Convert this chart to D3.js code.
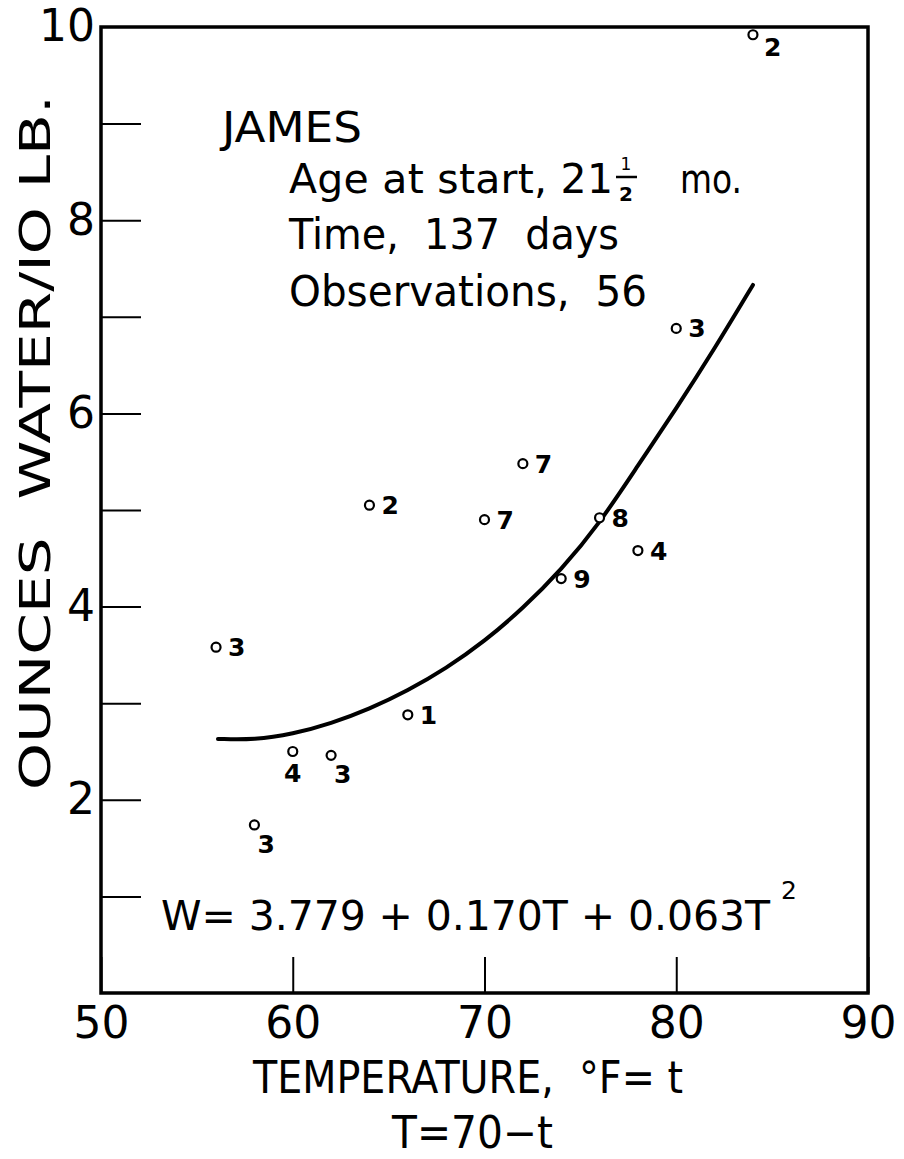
<!DOCTYPE html>
<html>
<head>
<meta charset="utf-8">
<script src="https://cdn.jsdelivr.net/npm/d3@7"></script>
<style>
  html, body { margin: 0; padding: 0; background: #fff; }
  svg { display: block; }
  text { font-family: "DejaVu Sans", sans-serif; fill: #000; white-space: pre; }
</style>
</head>
<body>
<div id="chart"></div>
<script>
// observed points: temperature (°F), ounces water / 10 lb, number of observations
var temps  = [84, 80, 56, 64, 72, 70, 76, 78, 74, 66, 60, 62, 58];
var water  = [9.92, 6.88, 3.58, 5.05, 5.48, 4.90, 4.92, 4.58, 4.29, 2.88, 2.50, 2.46, 1.74];
var counts = ['2', '3', '3', '2', '7', '7', '8', '4', '9', '1', '4', '3', '3'];
// where the count sits next to its circle
var labelSide = ['sub', 'r', 'r', 'r', 'r', 'r', 'r', 'r', 'r', 'r', 'b', 'br', 'br'];

// fitted curve
var curveT = [56.1, 58.0, 60.0, 62.0, 64.0, 66.0, 68.0, 70.0, 72.0, 74.0, 76.0, 78.0, 80.0, 82.0, 84.0];
var curveW = [2.63, 2.62, 2.68, 2.79, 2.94, 3.13, 3.36, 3.64, 3.98, 4.38, 4.86, 5.46, 6.05, 6.67, 7.33];

var xTicks = [50, 60, 70, 80, 90];
var yTicks = [1, 2, 3, 4, 5, 6, 7, 8, 9];

var W = 904, H = 1159;
var svg = d3.select('#chart').append('svg').attr('width', W).attr('height', H);

var x = d3.scaleLinear().domain([50, 90]).range([101, 868]);
var y = d3.scaleLinear().domain([0, 10]).range([993, 27]);

/* axes: inward ticks, labels outside */
var yAxis = d3.axisLeft(y).tickValues(yTicks).tickSize(-40).tickPadding(6)
  .tickFormat(function (d) { return d % 2 === 0 ? d : ''; });
var gy = svg.append('g').attr('transform', 'translate(' + x(50) + ',0)').call(yAxis);

var xAxis = d3.axisBottom(x).tickValues(xTicks).tickSize(-36).tickPadding(14);
var gx = svg.append('g').attr('transform', 'translate(0,' + y(0) + ')').call(xAxis);

[gx, gy].forEach(function (g) {
  g.select('.domain').remove();
  g.selectAll('line').attr('stroke', '#000').attr('stroke-width', 2);
  g.selectAll('text').attr('font-size', 44).attr('fill', '#000')
    .style('font-family', '"DejaVu Sans", sans-serif');
});

// "10" at top of the axis sits on the frame corner
gy.append('text').attr('x', -6).attr('y', y(10)).attr('dy', '0.32em')
  .attr('text-anchor', 'end').attr('font-size', 44).attr('fill', '#000')
  .style('font-family', '"DejaVu Sans", sans-serif').text('10');

/* frame */
svg.append('rect')
  .attr('x', x(50)).attr('y', y(10))
  .attr('width', x(90) - x(50)).attr('height', y(0) - y(10))
  .attr('fill', 'none').attr('stroke', '#000').attr('stroke-width', 3.5);

/* curve */
var line = d3.line()
  .x(function (d) { return x(d[0]); })
  .y(function (d) { return y(d[1]); })
  .curve(d3.curveBasis);
svg.append('path')
  .datum(d3.zip(curveT, curveW))
  .attr('d', line)
  .attr('fill', 'none').attr('stroke', '#000')
  .attr('stroke-width', 4).attr('stroke-linecap', 'round');

/* points */
var pts = svg.append('g');
temps.forEach(function (t, i) {
  var cx = x(t), cy = y(water[i]);
  pts.append('circle').attr('cx', cx).attr('cy', cy).attr('r', 4.5)
    .attr('fill', '#fff').attr('stroke', '#000').attr('stroke-width', 2.2);
  var side = labelSide[i], lx = cx + 12, ly = cy + 9, anchor = 'start';
  if (side === 'sub') { lx = cx + 11; ly = cy + 21; }
  if (side === 'b')   { lx = cx; ly = cy + 30; anchor = 'middle'; }
  if (side === 'br')  { lx = cx + 3; ly = cy + 28; }
  pts.append('text').attr('x', lx).attr('y', ly)
    .attr('text-anchor', anchor)
    .attr('font-size', 25).attr('font-weight', 'bold')
    .text(counts[i]);
});

/* text helper: place text and stretch it to a given width */
function fitText(str, x0, base, size, width, adj) {
  var t = svg.append('text').attr('x', x0).attr('y', base)
    .attr('font-size', size).text(str);
  if (width) t.attr('textLength', width).attr('lengthAdjust', adj || 'spacingAndGlyphs');
  return t;
}

/* legend block */
fitText('JAMES', 222, 142, 42, 140);

// "Age at start, 21½ mo." with a stacked one-half
fitText('Age at start, 21', 289, 193, 41, 324, 'spacing');
svg.append('text').attr('x', 626).attr('y', 170).attr('text-anchor', 'middle')
  .attr('font-size', 17).text('1');
svg.append('line').attr('x1', 616).attr('x2', 637).attr('y1', 177).attr('y2', 177)
  .attr('stroke', '#000').attr('stroke-width', 2.5);
svg.append('text').attr('x', 626).attr('y', 201).attr('text-anchor', 'middle')
  .attr('font-size', 20).attr('font-weight', 'bold').text('2');
fitText('mo.', 680, 193, 41, 62);

fitText('Time,  137  days', 289, 249, 42, 330);
fitText('Observations,  56', 289, 306, 42, 358);

/* equation and its raised 2 */
fitText('W= 3.779 + 0.170T + 0.063T', 161, 930, 41, 609, 'spacing');
svg.append('text').attr('x', 781).attr('y', 899).attr('font-size', 25).text('2');

/* axis titles */
fitText('TEMPERATURE,  \u00B0F= t', 253, 1093, 44, 430);
fitText('T=70\u2212t', 392, 1148, 44, 161);

svg.append('text')
  .attr('transform', 'translate(50,790) rotate(-90)')
  .attr('x', 0).attr('y', 0)
  .attr('font-size', 42)
  .attr('textLength', 695).attr('lengthAdjust', 'spacingAndGlyphs')
  .text('OUNCES  WATER/IO LB.');
</script>
</body>
</html>
